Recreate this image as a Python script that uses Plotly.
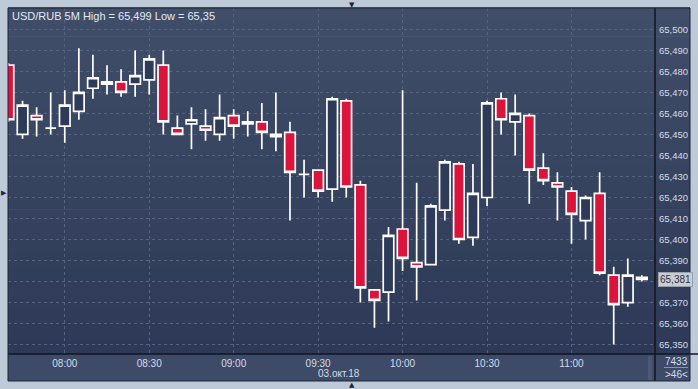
import plotly.graph_objects as go
import pandas as pd

# ---- data ----
start = "2018-10-03 07:40"
times = pd.date_range(start, periods=46, freq="5min").strftime("%Y-%m-%d %H:%M").tolist()
opens = [65.483, 65.450, 65.459, 65.453, 65.454, 65.461, 65.472, 65.475, 65.475, 65.474,
         65.476, 65.483, 65.453, 65.455, 65.454, 65.450, 65.459, 65.456, 65.456, 65.450,
         65.451, 65.431, 65.433, 65.424, 65.466, 65.426, 65.376, 65.375, 65.405, 65.389,
         65.388, 65.414, 65.436, 65.401, 65.420, 65.467, 65.456, 65.459, 65.434, 65.427,
         65.423, 65.409, 65.422, 65.383, 65.370, 65.382]
highs = [65.484, 65.466, 65.463, 65.470, 65.471, 65.491, 65.488, 65.483, 65.481, 65.490,
         65.488, 65.490, 65.459, 65.463, 65.462, 65.469, 65.462, 65.461, 65.465, 65.470,
         65.456, 65.438, 65.433, 65.468, 65.467, 65.428, 65.376, 65.406, 65.471, 65.427,
         65.417, 65.438, 65.437, 65.436, 65.466, 65.470, 65.469, 65.460, 65.441, 65.432,
         65.425, 65.421, 65.432, 65.387, 65.391, 65.383]
lows = [65.456, 65.448, 65.449, 65.450, 65.446, 65.457, 65.467, 65.469, 65.468, 65.468,
        65.469, 65.450, 65.450, 65.443, 65.447, 65.447, 65.448, 65.449, 65.443, 65.442,
        65.409, 65.420, 65.420, 65.418, 65.420, 65.370, 65.358, 65.361, 65.385, 65.371,
        65.388, 65.409, 65.398, 65.397, 65.416, 65.450, 65.440, 65.417, 65.426, 65.409,
        65.398, 65.400, 65.383, 65.350, 65.368, 65.380]
closes = [65.457, 65.464, 65.457, 65.453, 65.464, 65.470, 65.477, 65.474, 65.470, 65.478,
          65.486, 65.456, 65.450, 65.457, 65.452, 65.458, 65.454, 65.455, 65.451, 65.449,
          65.432, 65.431, 65.423, 65.467, 65.425, 65.377, 65.371, 65.402, 65.391, 65.387,
          65.416, 65.437, 65.400, 65.422, 65.465, 65.457, 65.460, 65.433, 65.428, 65.425,
          65.412, 65.420, 65.384, 65.369, 65.383, 65.381]
y_ticks = [65.350, 65.360, 65.370, 65.380, 65.390, 65.400, 65.410, 65.420, 65.430, 65.440,
           65.450, 65.460, 65.470, 65.480, 65.490, 65.500]
title_text = "USD/RUB 5M High = 65,499 Low = 65,35"
date_label = "03.окт.18"
last_price = 65.381
volume_text = "7433"
count_text = ">46<"

# ---- geometry (pixels) ----
W, H = 698, 389
PL, PR, PT, PB = 8, 655, 8, 354
FONT = "Liberation Sans"


def px_x(px):
    return (px - PL) / (PR - PL)


def px_y(py):
    return (PB - py) / (PB - PT)


fig = go.Figure()
fig.add_trace(go.Candlestick(
    x=times, open=opens, high=highs, low=lows, close=closes,
    increasing=dict(line=dict(color="#ffffff", width=1.7), fillcolor="#2e3b58"),
    decreasing=dict(line=dict(color="#ffffff", width=1.7), fillcolor="#dc143c"),
    whiskerwidth=0, hoverinfo="skip", showlegend=False,
))

shapes = []
# gradient panel background (plot + right axis)
top_c = (64, 78, 105)
bot_c = (45, 57, 86)
n = 24
for i in range(n):
    y0 = PT + (PB - PT) * i / n
    y1 = PT + (PB - PT) * (i + 1) / n
    t = (i + 0.5) / n
    c = tuple(round(top_c[k] + (bot_c[k] - top_c[k]) * t) for k in range(3))
    shapes.append(dict(type="rect", xref="paper", yref="paper", layer="below",
                       x0=px_x(PL), x1=px_x(690), y0=px_y(y1), y1=px_y(y0) + 0.002,
                       fillcolor="rgb(%d,%d,%d)" % c, line=dict(width=0)))
# bottom band
shapes.append(dict(type="rect", xref="paper", yref="paper", layer="below",
                   x0=px_x(PL), x1=px_x(690), y0=px_y(381), y1=px_y(PB),
                   fillcolor="#3e4b68", line=dict(width=0)))
# scroll bar hint
shapes.append(dict(type="rect", xref="paper", yref="paper", layer="below",
                   x0=px_x(648), x1=px_x(652), y0=px_y(380), y1=px_y(356),
                   fillcolor="#4c5874", line=dict(width=0)))
# dark separator lines
shapes.append(dict(type="line", xref="paper", yref="paper", layer="above",
                   x0=px_x(PL), x1=px_x(698), y0=px_y(PB), y1=px_y(PB),
                   line=dict(color="#10151f", width=1.5)))
shapes.append(dict(type="line", xref="paper", yref="paper", layer="above",
                   x0=px_x(PR), x1=px_x(PR), y0=px_y(381), y1=px_y(PT),
                   line=dict(color="#10151f", width=1.5)))
# panel border
shapes.append(dict(type="rect", xref="paper", yref="paper", layer="above",
                   x0=px_x(PL), x1=px_x(690), y0=px_y(381), y1=px_y(PT),
                   line=dict(color="#1c2434", width=1)))
# small rule in bottom-right box
shapes.append(dict(type="line", xref="paper", yref="paper", layer="above",
                   x0=px_x(664), x1=px_x(688), y0=px_y(367.5), y1=px_y(367.5),
                   line=dict(color="#8a94a8", width=1)))

light = "#d4dcea"
annotations = [
    dict(text=title_text, xref="paper", yref="paper", x=px_x(10), y=px_y(16),
         xanchor="left", yanchor="middle", showarrow=False,
         font=dict(family=FONT, size=11, color="#e4eaf4")),
    dict(text=date_label, xref="paper", yref="paper", x=px_x(339), y=px_y(373),
         xanchor="center", yanchor="middle", showarrow=False,
         font=dict(family=FONT, size=10, color=light)),
    dict(text=volume_text, xref="paper", yref="paper", x=px_x(676), y=px_y(361),
         xanchor="center", yanchor="middle", showarrow=False,
         font=dict(family=FONT, size=10, color=light)),
    dict(text=count_text, xref="paper", yref="paper", x=px_x(676), y=px_y(374),
         xanchor="center", yanchor="middle", showarrow=False,
         font=dict(family=FONT, size=10, color=light)),
    dict(text=f"{last_price:.3f}".replace(".", ","), xref="paper", yref="y",
         x=px_x(658), y=last_price, xanchor="left", yanchor="middle", showarrow=False,
         bgcolor="#c9cdd4", bordercolor="#9aa0aa", borderwidth=1, borderpad=1,
         font=dict(family=FONT, size=10, color="#2a3244")),
    dict(text="▼", xref="paper", yref="paper", x=px_x(352), y=px_y(4.5),
         xanchor="center", yanchor="middle", showarrow=False,
         font=dict(family="DejaVu Sans", size=7, color="#1e2636")),
    dict(text="▲", xref="paper", yref="paper", x=px_x(352), y=px_y(384.5),
         xanchor="center", yanchor="middle", showarrow=False,
         font=dict(family="DejaVu Sans", size=7, color="#1e2636")),
    dict(text="▶", xref="paper", yref="paper", x=px_x(4), y=px_y(193),
         xanchor="center", yanchor="middle", showarrow=False,
         font=dict(family="DejaVu Sans", size=7, color="#1e2636")),
]

grid_c = "#55627e"
tick_text = ["" if abs(v - 65.380) < 1e-9 else f"{v:.3f}".replace(".", ",") for v in y_ticks]

fig.update_layout(
    width=W, height=H,
    margin=dict(l=PL, r=W - PR, t=PT, b=H - PB, pad=0),
    paper_bgcolor="#bfcad8",
    plot_bgcolor="rgba(0,0,0,0)",
    separators=", ",
    boxgap=0.25, boxgroupgap=0,
    shapes=shapes,
    annotations=annotations,
    showlegend=False,
    xaxis=dict(
        type="date",
        range=["2018-10-03 07:39:50", "2018-10-03 11:29:40"],
        rangeslider=dict(visible=False),
        tickmode="linear", tick0="2018-10-03 08:00", dtick=30 * 60 * 1000,
        tickformat="%H:%M",
        showgrid=True, gridcolor=grid_c, griddash="3px,3px", gridwidth=1,
        zeroline=False, showline=False, ticks="",
        tickfont=dict(family=FONT, size=10, color=light),
        ticklabelstandoff=2,
        fixedrange=True,
    ),
    yaxis=dict(
        side="right",
        range=[65.3455, 65.5102],
        tickmode="array", tickvals=y_ticks, ticktext=tick_text,
        showgrid=True, gridcolor=grid_c, griddash="3px,3px", gridwidth=1,
        zeroline=False, showline=False, ticks="",
        tickfont=dict(family=FONT, size=9.5, color=light),
        ticklabelstandoff=3,
        fixedrange=True,
    ),
)

fig.write_html("out.html")
